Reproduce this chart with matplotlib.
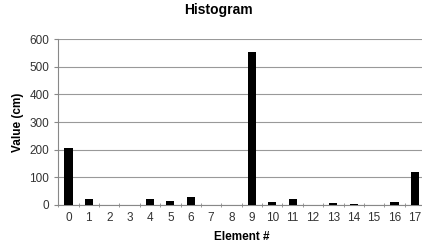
import matplotlib
matplotlib.use("Agg")
import matplotlib.pyplot as plt
import numpy as np

elements = [str(i) for i in range(18)]
values = [207, 20, 0, 0, 20, 13, 28, 0, 0, 553, 11, 20, 0, 6, 4, 0, 9, 119]

plt.rcParams['font.family'] = ['Liberation Sans', 'DejaVu Sans']

fig = plt.figure(figsize=(4.22, 2.49), dpi=100)
# plot area runs slightly past the right edge of the figure, like the source
ax = fig.add_axes([58.3 / 422, 1 - 204.7 / 249, (425 - 58.3) / 422, (204.7 - 39.3) / 249])

x = np.arange(len(elements))
ax.bar(x, values, width=0.4, color="black", zorder=3)

ax.set_xlim(-0.5, len(elements) - 0.5)
ax.set_ylim(0, 600)
ax.set_yticks(range(0, 601, 100))
ax.set_xticks(x)
ax.set_xticklabels(elements)
ax.set_xticks(np.arange(-0.5, len(elements), 1), minor=True)
ax.tick_params(axis="x", which="major", length=0, labelsize=8.5, pad=5, colors="#333333")
ax.tick_params(axis="x", which="minor", length=3, direction="inout", color="#888888")
ax.tick_params(axis="y", length=3, labelsize=8.5, color="#888888", labelcolor="#333333")

ax.grid(axis="y", color="#999999", linewidth=0.8, zorder=0)
for s in ["top", "right"]:
    ax.spines[s].set_visible(False)
ax.spines["left"].set_color("#888888")
ax.spines["bottom"].set_color("#888888")

ax.set_xlabel("Element #", fontsize=8.5, fontweight="bold", labelpad=5)
ax.set_ylabel("Value (cm)", fontsize=8.5, fontweight="bold", labelpad=4)
fig.text(218 / 422, 1 - 10 / 249, "Histogram", ha="center", va="center",
         fontsize=10, fontweight="bold")

fig.savefig("out.png", dpi=100)
